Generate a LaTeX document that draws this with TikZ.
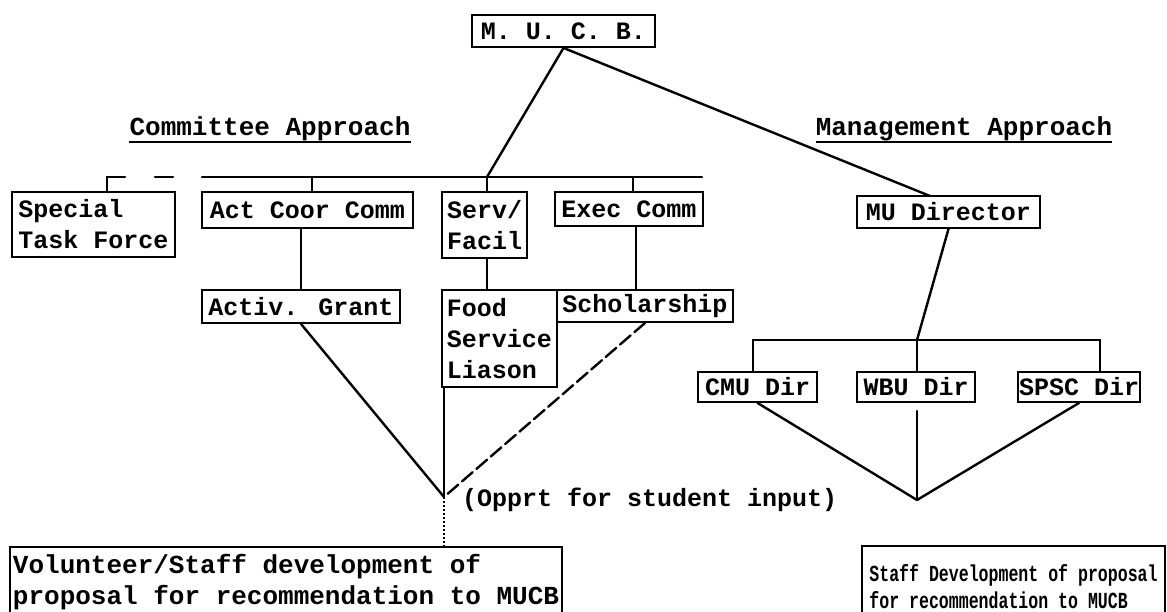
\documentclass[tikz,border=0pt]{standalone}
\usepackage{fontspec}
\usetikzlibrary{calc}
\newfontfamily\tw{Liberation Mono}
\newfontfamily\twn[FakeStretch=0.72]{Liberation Mono}
\begin{document}
\begin{tikzpicture}[x=1pt,y=-1pt,
  conn/.style={line width=2.4pt, line cap=round},
  box/.style={draw, line width=1.9pt, inner sep=0pt, align=left,
    font=\tw\bfseries\fontsize{25}{31}\selectfont},
  txt/.style={inner sep=0pt, font=\tw\bfseries\fontsize{25}{31}\selectfont},
  title/.style={inner sep=0pt, font=\tw\bfseries\fontsize{26}{31}\selectfont}]
\useasboundingbox (0,0) rectangle (1167,612);
\clip (0,0) rectangle (1167,612);
\fill[white] (0,0) rectangle (1167,612);

% top
\node[box, minimum width=183pt, minimum height=32pt] (mucb) at (563.5,31) {M. U. C. B.};

% titles
\node[title, anchor=base] (ca) at (270,136) {Committee Approach};
\draw[line width=1.6pt] ($(ca.base west)+(0,6)$) -- ($(ca.base east)+(0,6)$);
\node[title, anchor=base] (ma) at (964,136) {Management Approach};
\draw[line width=1.6pt] ($(ma.base west)+(0,6)$) -- ($(ma.base east)+(0,6)$);

% committee row
\node[box, minimum width=163pt, minimum height=65pt] (stf) at (93.5,224.5) {Special\\Task Force};
\node[box, minimum width=211pt, minimum height=36pt] (acc) at (307.5,210) {Act Coor Comm};
\node[box, minimum width=85pt, minimum height=66pt] (sf) at (484.5,225) {Serv/\\Facil};
\node[box, minimum width=148pt, minimum height=34pt] (ec) at (629,209) {Exec Comm};

\node[box, minimum width=198pt, minimum height=33pt] (ag) at (301,306.5) {Activ. Grant};
\node[box, minimum width=115pt, minimum height=97pt] (fsl) at (499.5,338.5) {Food\\Service\\Liason};
\node[box, minimum width=176pt, minimum height=32pt] (sch) at (645,306) {Scholarship};

% management
\node[box, minimum width=183pt, minimum height=32pt] (mud) at (948.5,212) {MU Director};
\node[box, minimum width=119pt, minimum height=30pt] (cmu) at (757.5,387) {CMU Dir};
\node[box, minimum width=118pt, minimum height=30pt] (wbu) at (916,387) {WBU Dir};
\node[box, minimum width=122pt, minimum height=30pt] (spsc) at (1079,387) {SPSC Dir};

% bottom boxes
\node[box, minimum width=552pt, minimum height=71pt,
  font=\tw\bfseries\fontsize{26}{31}\selectfont] (vol) at (286,582.5)
  {Volunteer/Staff development of\\proposal for recommendation to MUCB};
\node[box, minimum width=303pt, minimum height=81pt,
  font=\twn\bfseries\fontsize{23}{27}\selectfont] (sdp) at (1013.5,586.5)
  {Staff Development of proposal\\for recommendation to MUCB};

\node[txt, anchor=west] (opp) at (462,500) {(Opprt for student input)};

% coordinates
\coordinate (j1) at (487,177);
\coordinate (barL) at (202,177);
\coordinate (barR) at (702,177);
\coordinate (t1) at (312,177);
\coordinate (t3) at (633,177);
\coordinate (s1) at (107,177);
\coordinate (s2) at (125,177);
\coordinate (d1) at (155,177);
\coordinate (d2) at (173,177);
\coordinate (e2) at (636,0);
\coordinate (mudin) at (930,196);
\coordinate (rbm) at (917,340);
\coordinate (rb1) at (753,340);
\coordinate (rb2) at (1100,340);
\coordinate (apexL) at (444,497);
\coordinate (apexR) at (917,500);

% MUCB links
\draw[conn] (mucb.south) -- (j1);
\draw[conn] (mucb.south) -- (mudin);

% committee bar
\draw[conn] (barL) -- (barR);
\draw[conn] (s1 |- stf.north) -- (s1) -- (s2);
\draw[conn] (d1) -- (d2);
\draw[conn] (t1) -- (t1 |- acc.north);
\draw[conn] (j1) -- (j1 |- sf.north);
\draw[conn] (t3) -- (t3 |- ec.north);

% drops
\draw[conn] (ag.north |- acc.south) -- (ag.north);
\draw[conn] (j1 |- sf.south) -- (j1 |- fsl.north);
\draw[conn] (e2 |- ec.south) -- (e2 |- sch.north);

% to left apex
\draw[conn] (ag.south) -- (apexL);
\draw[conn] (apexL |- fsl.south) -- (apexL);
\draw[conn, dash pattern=on 14pt off 5pt] (sch.south) -- (apexL);
\draw[line width=2pt, dotted] (apexL) -- (apexL |- vol.north);

% management tree
\draw[conn] (mud.south) -- (rbm);
\draw[conn] (rb1 |- cmu.north) -- (rb1) -- (rb2) -- (rb2 |- spsc.north);
\draw[conn] (rbm) -- (rbm |- wbu.north);
\draw[conn] (cmu.south) -- (apexR);
\draw[conn] ($(apexR |- wbu.south)+(0,8)$) -- (apexR);
\draw[conn] (spsc.south) -- (apexR);
\end{tikzpicture}
\end{document}
